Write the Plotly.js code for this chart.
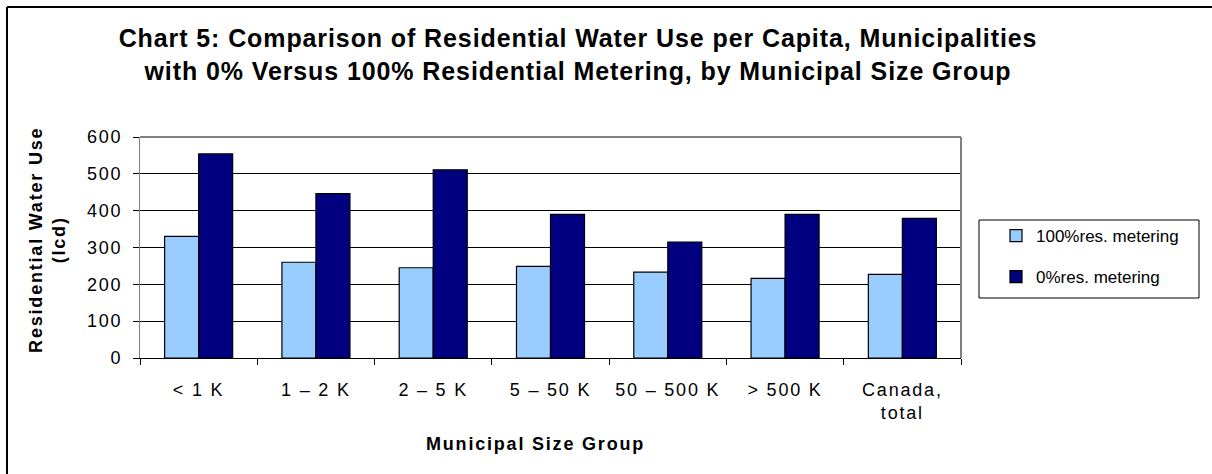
<!DOCTYPE html>
<html>
<head>
<meta charset="utf-8">
<script src="https://cdn.plot.ly/plotly-3.0.1.min.js"></script>
<style>
html,body{margin:0;padding:0;background:#fff;}
#chart{width:1212px;height:474px;}
#chart .gtitle{letter-spacing:0.9px;}
#chart .xtick text, #chart .ytick text{letter-spacing:1.8px;}
#chart .annotation-text{letter-spacing:1.8px;}
</style>
</head>
<body>
<div id="chart"></div>
<script>
const categories = ["< 1 K", "1 – 2 K", "2 – 5 K", "5 – 50 K", "50 – 500 K", "> 500 K", "Canada,<br>total"];
const metered100 = [330, 260, 245, 249, 233, 216, 227];
const metered0 = [554, 446, 511, 390, 315, 390, 379];
const seriesNames = ["100%res. metering", "0%res. metering"];
const yTicks = [0, 100, 200, 300, 400, 500, 600];

const W = 1212, H = 474;
const mL = 140, mR = 251, mT = 137, mB = 116;
const pw = W - mL - mR, ph = H - mT - mB;
const px = v => (v - mL) / pw;          // pixel x -> paper x
const py = v => (H - mB - v) / ph;      // pixel y -> paper y

const font = "Arial, 'Liberation Sans', sans-serif";

const traces = [
  {type: 'bar', x: categories, y: metered100, name: seriesNames[0], legendgroup: 'a',
   marker: {color: '#99CCFF', line: {color: '#000000', width: 1.2}}},
  {type: 'bar', x: categories, y: metered0, name: seriesNames[1], legendgroup: 'b',
   marker: {color: '#000080', line: {color: '#000000', width: 1.2}}}
];

const layout = {
  width: W, height: H,
  margin: {l: mL, r: mR, t: mT, b: mB, pad: 0},
  paper_bgcolor: '#ffffff', plot_bgcolor: '#ffffff',
  font: {family: font, color: '#000000', size: 18},
  barmode: 'group', bargap: 0.42, bargroupgap: 0,
  showlegend: true,
  title: {
    text: 'Chart 5: Comparison of Residential Water Use per Capita, Municipalities<br>with 0% Versus 100% Residential Metering, by Municipal Size Group',
    font: {family: font, size: 25, color: '#000000', weight: 'bold'},
    xref: 'paper', x: px(578), xanchor: 'center',
    yref: 'container', y: 1 - 47 / H, yanchor: 'top'
  },
  xaxis: {
    type: 'category',
    showgrid: false, zeroline: false,
    showline: true, linecolor: '#000000', linewidth: 1,
    ticks: 'outside', tickson: 'boundaries', ticklen: 6, tickcolor: '#000000',
    tickfont: {family: font, size: 18, color: '#000000'},
    ticklabelstandoff: 15,
    fixedrange: true
  },
  yaxis: {
    range: [0, 600], tickvals: yTicks, ticktext: yTicks.map(String),
    showgrid: true, gridcolor: '#000000', gridwidth: 1,
    zeroline: false,
    showline: true, linecolor: '#808080', linewidth: 1,
    ticks: 'outside', ticklen: 6, tickcolor: '#000000',
    tickfont: {family: font, size: 18, color: '#000000'},
    ticklabelstandoff: 7,
    fixedrange: true
  },
  legend: {
    x: px(996), xanchor: 'left',
    y: py(218), yanchor: 'top',
    bgcolor: 'rgba(0,0,0,0)', borderwidth: 0,
    font: {family: font, size: 17, color: '#000000'},
    traceorder: 'grouped', tracegroupgap: 16
  },
  annotations: [
    {text: '<b>Residential Water Use<br>(lcd)</b>', xref: 'paper', yref: 'paper',
     x: px(47), y: py(240), xanchor: 'center', yanchor: 'middle', textangle: -90,
     showarrow: false, font: {family: font, size: 18, color: '#000000'}},
    {text: '<b>Municipal Size Group</b>', xref: 'paper', yref: 'paper',
     x: px(535), y: py(444), xanchor: 'center', yanchor: 'middle',
     showarrow: false, font: {family: font, size: 18, color: '#000000'}}
  ],
  shapes: [
    {type: 'line', xref: 'paper', yref: 'paper', x0: 0, x1: 1, y0: 1, y1: 1, line: {color: '#808080', width: 2}, layer: 'above'},
    {type: 'line', xref: 'paper', yref: 'paper', x0: 1, x1: 1, y0: 0, y1: 1, line: {color: '#808080', width: 2}, layer: 'above'},
    {type: 'rect', xref: 'paper', yref: 'paper', x0: px(979), x1: px(1199), y0: py(220), y1: py(298), line: {color: '#000000', width: 1}, layer: 'above'},
    {type: 'line', xref: 'paper', yref: 'paper', x0: px(7), x1: px(7), y0: py(7), y1: py(480), line: {color: '#000000', width: 2}},
    {type: 'line', xref: 'paper', yref: 'paper', x0: px(7), x1: px(1220), y0: py(7), y1: py(7), line: {color: '#000000', width: 2}}
  ]
};

Plotly.newPlot('chart', traces, layout, {displayModeBar: false, staticPlot: true});
</script>
</body>
</html>
